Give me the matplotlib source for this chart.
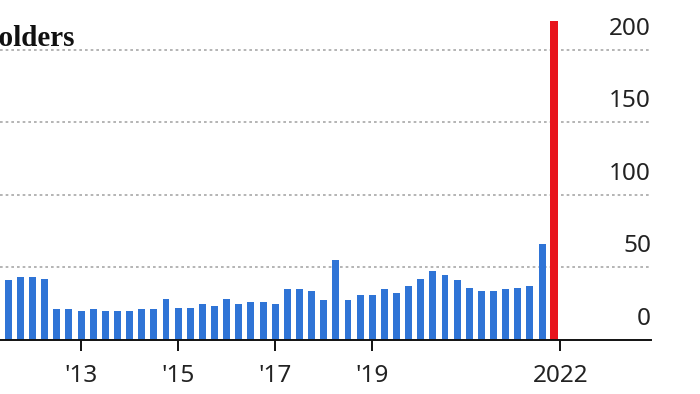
import numpy as np
import matplotlib
matplotlib.use('Agg')
import matplotlib.pyplot as plt
from matplotlib.transforms import blended_transform_factory

# quarterly counts, oldest first (the last one is highlighted)
values = [41.2, 43.4, 43.4, 42.3, 21.2, 21.2, 19.8, 21.2, 19.8, 19.8,
          19.8, 21.2, 21.2, 28.5, 22.3, 22.3, 24.8, 23.4, 28.5, 24.8,
          26.0, 26.0, 24.8, 35.0, 35.0, 33.6, 27.4, 55.0, 27.4, 31.0,
          31.0, 35.0, 32.2, 37.2, 42.3, 47.4, 44.8, 41.2, 36.1, 33.6,
          33.6, 35.0, 36.1, 37.2, 66.2]
latest = 220

# tick positions counted in quarters from the first bar
tick_pos = [6, 14, 22, 30, 45.5]
tick_labels = ["'13", "'15", "'17", "'19", "2022"]
first_tick = (-2, "'11")   # falls just off the left edge
y_grid = [0, 50, 100, 150, 200]

blue = '#2f74d6'
red = '#e8141c'

fig = plt.figure(figsize=(7, 3.94), dpi=100)
ax = fig.add_axes([0, 0.1371, 0.93, 0.8464])

x = np.arange(len(values))
ax.bar(x, values, width=0.57, color=blue, zorder=3)
ax.bar(len(values), latest, width=0.69, color=red, zorder=3)

for y in y_grid[1:]:
    ax.axhline(y, color='#a8a8a8', lw=1.2, dashes=(1.6, 1.8), zorder=1)

trans = blended_transform_factory(ax.transAxes, ax.transData)
for y in y_grid:
    ax.annotate(str(y), xy=(1.0, y), xycoords=trans,
                xytext=(0, 15), textcoords='offset pixels',
                ha='right', va='baseline', fontsize=17.5,
                family='Noto Sans', color='#222222')

for s in ['top', 'right', 'left']:
    ax.spines[s].set_visible(False)
ax.spines['bottom'].set_linewidth(1.4)
ax.spines['bottom'].set_color('#111111')
ax.spines['bottom'].set_zorder(4)

ax.set_yticks([])
ax.set_xticks(tick_pos)
ax.set_xticklabels(tick_labels, family='Noto Sans', fontsize=17.5, color='#222222')
ax.tick_params(axis='x', length=8, width=1.4, color='#111111', pad=9)

# limits after the ticks, so set_xticks does not widen them
ax.set_xlim(-0.684, 52.98)
ax.set_ylim(0, 230)

ax.annotate(first_tick[1], xy=(first_tick[0], 0), xycoords='data',
            xytext=(0, -17), textcoords='offset points', ha='center', va='top',
            fontsize=17.5, family='Noto Sans', color='#222222',
            annotation_clip=False)

fig.text(75 / 700, 1 - 46 / 394, 'Shareholders', ha='right', va='baseline',
         fontsize=21, family='Liberation Serif', weight='bold', color='#111111')

fig.savefig('out.png', dpi=100)
